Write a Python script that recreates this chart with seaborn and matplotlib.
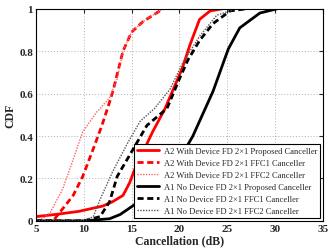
import matplotlib
matplotlib.use("Agg")
import matplotlib.pyplot as plt
import seaborn as sns
import pandas as pd

# valores (cancelamento em dB x CDF)
a2_prop_x = [5.0, 7.0, 9.5, 12.0, 13.0, 14.1, 14.8, 15.3, 17.2, 18.5, 20.3, 21.1, 22.1, 23.2, 24.5]
a2_prop_y = [0.02, 0.03, 0.045, 0.07, 0.09, 0.12, 0.18, 0.24, 0.42, 0.53, 0.72, 0.83, 0.95, 0.99, 1.0]

a2_ffc1_x = [5.0, 6.8, 7.5, 8.9, 9.9, 11.0, 11.9, 12.7, 13.1, 14.1, 15.0, 16.2, 17.6, 18.3]
a2_ffc1_y = [0.0, 0.0, 0.04, 0.12, 0.21, 0.34, 0.45, 0.56, 0.62, 0.80, 0.89, 0.94, 0.98, 1.0]

a2_ffc2_x = [5.0, 5.7, 6.5, 7.8, 8.9, 9.9, 11.3, 11.7, 12.7, 13.5, 14.1, 15.0, 16.2, 17.6, 18.3]
a2_ffc2_y = [0.0, 0.01, 0.04, 0.15, 0.29, 0.42, 0.51, 0.53, 0.58, 0.67, 0.80, 0.89, 0.94, 0.98, 1.0]

a1_prop_x = [5.0, 10.0, 12.7, 13.8, 15.1, 17.0, 19.5, 21.4, 22.0, 23.5, 25.1, 26.3, 28.4, 30.2]
a1_prop_y = [0.0, 0.0, 0.01, 0.03, 0.07, 0.13, 0.25, 0.40, 0.46, 0.61, 0.81, 0.91, 0.98, 1.0]

a1_ffc1_x = [5.0, 10.0, 11.7, 12.7, 13.5, 14.8, 16.6, 18.7, 20.0, 20.9, 22.1, 23.5, 25.3, 27.0]
a1_ffc1_y = [0.0, 0.0, 0.02, 0.09, 0.21, 0.31, 0.45, 0.53, 0.67, 0.76, 0.85, 0.93, 0.99, 1.0]

a1_ffc2_x = [5.0, 10.0, 11.0, 11.7, 13.0, 14.5, 15.9, 17.4, 19.0, 20.4, 22.1, 23.9, 26.0]
a1_ffc2_y = [0.0, 0.0, 0.02, 0.10, 0.23, 0.36, 0.47, 0.53, 0.62, 0.75, 0.87, 0.97, 1.0]

nomes = [
    "A2 With Device FD 2\u00d71 Proposed Canceller",
    "A2 With Device FD 2\u00d71 FFC1 Canceller",
    "A2 With Device FD 2\u00d71 FFC2 Canceller",
    "A1 No Device FD 2\u00d71 Proposed Canceller",
    "A1 No Device FD 2\u00d71 FFC1 Canceller",
    "A1 No Device FD 2\u00d71 FFC2 Canceller",
]
series = [
    (a2_prop_x, a2_prop_y), (a2_ffc1_x, a2_ffc1_y), (a2_ffc2_x, a2_ffc2_y),
    (a1_prop_x, a1_prop_y), (a1_ffc1_x, a1_ffc1_y), (a1_ffc2_x, a1_ffc2_y),
]
estilos = [
    dict(color="#ff0000", lw=2.0, ls="-"),
    dict(color="#ff0000", lw=2.0, ls=(0, (2.2, 1.3))),
    dict(color="#ff6060", lw=1.0, ls=(0, (1, 1))),
    dict(color="black", lw=2.0, ls="-"),
    dict(color="black", lw=2.0, ls=(0, (2.2, 1.3))),
    dict(color="#555555", lw=1.0, ls=(0, (1, 1))),
]

sns.set_style("white")
plt.rcParams["font.family"] = ["Liberation Serif", "DejaVu Serif"]

fig = plt.figure(figsize=(3.32, 2.51), dpi=100)
ax = fig.add_axes([0.108, 0.116, 0.865, 0.845])

for nome, (xs, ys), st in zip(nomes, series, estilos):
    df = pd.DataFrame({"x": xs, "y": ys})
    sns.lineplot(data=df, x="x", y="y", ax=ax, sort=False, color=st["color"],
                 linewidth=st["lw"], linestyle=st["ls"], label=nome)

ax.set_xlim(5, 35)
ax.set_ylim(0, 1)
ax.set_xticks([5, 10, 15, 20, 25, 30, 35])
ax.set_yticks([0, 0.2, 0.4, 0.6, 0.8, 1])
ax.set_yticklabels(["0", "0.2", "0.4", "0.6", "0.8", "1"])
ax.grid(True, color="#b0b0b0", linestyle=(0, (1, 2)), linewidth=0.7)
ax.tick_params(direction="in", length=3, labelsize=8, top=True, right=True, pad=2)
for lab in ax.get_xticklabels() + ax.get_yticklabels():
    lab.set_fontweight("bold")
for s in ax.spines.values():
    s.set_color("black")
    s.set_linewidth(0.8)
ax.set_xlabel("Cancellation (dB)", fontsize=8.5, fontweight="bold", labelpad=1)
ax.set_ylabel("CDF", fontsize=8.5, fontweight="bold", labelpad=2)

leg = ax.legend(loc="lower right", prop={"size": 6.1, "weight": "normal"}, frameon=True,
                fancybox=False, edgecolor="black", framealpha=1, borderpad=0.35,
                labelspacing=0.48, handlelength=2.6, handletextpad=0.5, borderaxespad=0.35)
leg.get_frame().set_linewidth(0.8)

fig.savefig("out.png", dpi=100)
plt.close(fig)
